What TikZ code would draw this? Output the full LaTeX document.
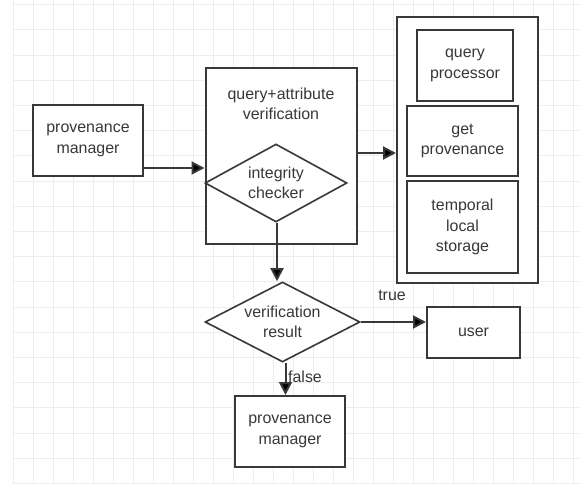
\documentclass[tikz,border=0pt]{standalone}
\usepackage{fontspec}
\setmainfont{Liberation Sans}
\usetikzlibrary{shapes.geometric,arrows.meta}
\definecolor{ink}{HTML}{383838}
\definecolor{gridc}{HTML}{EDEDED}
\tikzset{
  boxn/.style={draw=ink, line width=2bp, fill=white, rectangle, inner sep=2bp,
    align=center, text=ink, font=\fontsize{16}{20.5}\selectfont},
  decn/.style={draw=ink, line width=1.6bp, fill=white, diamond, inner sep=0pt,
    align=center, text=ink, font=\fontsize{16}{20.5}\selectfont},
  txt/.style={text=ink, align=center, font=\fontsize{16}{20.5}\selectfont},
  arr/.style={draw=ink, line width=2bp, -{Triangle[length=13bp,width=13bp,fill=black]}},
}
\begin{document}
\begin{tikzpicture}[x=1bp,y=-1bp]
\useasboundingbox (0,0) rectangle (580,484);
% faint background grid
\foreach \gx in {13,33,...,580} \draw[gridc, line width=0.9bp] (\gx,0) -- (\gx,484);
\foreach \k in {0,...,19} \draw[gridc, line width=0.9bp] (13,4.6+25.2*\k) -- (580,4.6+25.2*\k);

% left source
\node[boxn, minimum width=110bp, minimum height=71bp] (lpm) at (88,140.5) {provenance\\manager};

% verification block with integrity checker
\node[boxn, minimum width=151bp, minimum height=176bp] (qa) at (281,156) {};
\node[txt] (qat) at (281,104) {query+attribute\\verification};
\node[decn, minimum width=142bp, minimum height=78bp, aspect=1.82] (ic) at (276,183) {integrity\\checker};

% processing container
\node[boxn, minimum width=141bp, minimum height=266bp] (cont) at (467.5,150) {};
\node[boxn, minimum width=96bp, minimum height=71bp] (qp) at (465,65.5) {query\\processor};
\node[boxn, minimum width=111bp, minimum height=70bp] (gp) at (462.5,141) {get\\provenance};
\node[boxn, minimum width=111bp, minimum height=92bp] (tls) at (462.5,227) {temporal\\local\\storage};

% decision and outcomes
\node[decn, minimum width=155bp, minimum height=80bp, aspect=1.94] (vr) at (282.5,322) {verification\\result};
\node[boxn, minimum width=93bp, minimum height=51bp] (user) at (473.5,332.5) {user};
\node[boxn, minimum width=110bp, minimum height=71bp] (bpm) at (290,431.5) {provenance\\manager};

% connectors
\draw[arr] ([yshift=9bp]lpm.south east) coordinate (a1) -- (a1 -| qa.west);
\draw[arr] ([yshift=3bp]qa.east) coordinate (a2) -- (a2 -| cont.west);
\draw[arr] ([xshift=1bp]ic.south) coordinate (a3) -- (a3 |- vr.north);
\draw[arr] (vr.east) -- (vr.east -| user.west);
\draw[arr] ([xshift=3bp]vr.south) coordinate (a4) -- (a4 |- bpm.north);

% branch labels
\node[txt] (lt) at (392,295) {true};
\node[txt] (lf) at (305,377) {false};
\end{tikzpicture}
\end{document}
